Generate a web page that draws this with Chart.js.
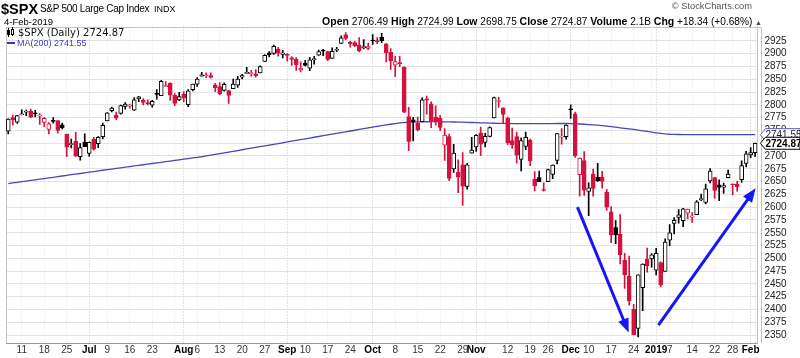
<!DOCTYPE html>
<html><head><meta charset="utf-8">
<script src="https://cdn.jsdelivr.net/npm/chart.js@4"></script>
<style>
html,body{margin:0;padding:0;background:#fff;}
#wrap{position:relative;width:800px;height:358px;overflow:hidden;font-family:"Liberation Sans",Arial,sans-serif;color:#000;}
#c{position:absolute;left:0;top:0;}
.t{position:absolute;white-space:nowrap;line-height:1;}
</style></head><body>
<div id="wrap">
<canvas id="c" width="800" height="358"></canvas>
<div class="t" style="left:1px;top:1px;font:bold 14.5px 'Liberation Sans';">$SPX</div>
<div class="t" style="left:40px;top:3px;font:10px 'Liberation Sans';letter-spacing:-0.3px;">S&amp;P 500 Large Cap Index</div>
<div class="t" style="left:154px;top:4px;font:9px 'Liberation Sans';">INDX</div>
<div class="t" style="left:4px;top:16px;font:9.5px 'Liberation Sans';">4-Feb-2019</div>
<div class="t" style="right:48px;top:1px;font:9.3px 'Liberation Sans';color:#555;">© StockCharts.com</div>
<div class="t" id="quote" style="right:38px;top:15px;font:10.1px 'Liberation Sans';"></div>
<div style="position:absolute;left:8px;top:28px;width:1px;height:9px;background:#000"></div>
<div style="position:absolute;left:7px;top:30px;width:3px;height:5px;background:#000"></div>
<div style="position:absolute;left:12px;top:27px;width:1px;height:9px;background:#000"></div>
<div style="position:absolute;left:11px;top:29px;width:1px;height:4px;border:1px solid #000;background:#fff"></div>
<div class="t" id="lg1" style="left:18px;top:27px;font:10px 'DejaVu Sans';color:#111;"></div>
<div style="position:absolute;left:7px;top:41.5px;width:8px;height:2px;background:#3a3ab0"></div>
<div class="t" id="lg2" style="left:17px;top:38px;font:9px 'Liberation Sans';color:#3a3ab0;"></div>
</div>
<script>
const dates = [
'2018-06-06','2018-06-07','2018-06-08','2018-06-11','2018-06-12','2018-06-13','2018-06-14','2018-06-15','2018-06-18','2018-06-19','2018-06-20','2018-06-21','2018-06-22','2018-06-25','2018-06-26','2018-06-27','2018-06-28','2018-06-29',
'2018-07-02','2018-07-03','2018-07-05','2018-07-06','2018-07-09','2018-07-10','2018-07-11','2018-07-12','2018-07-13','2018-07-16','2018-07-17','2018-07-18','2018-07-19','2018-07-20','2018-07-23','2018-07-24','2018-07-25','2018-07-26','2018-07-27','2018-07-30','2018-07-31',
'2018-08-01','2018-08-02','2018-08-03','2018-08-06','2018-08-07','2018-08-08','2018-08-09','2018-08-10','2018-08-13','2018-08-14','2018-08-15','2018-08-16','2018-08-17','2018-08-20','2018-08-21','2018-08-22','2018-08-23','2018-08-24','2018-08-27','2018-08-28','2018-08-29','2018-08-30','2018-08-31',
'2018-09-04','2018-09-05','2018-09-06','2018-09-07','2018-09-10','2018-09-11','2018-09-12','2018-09-13','2018-09-14','2018-09-17','2018-09-18','2018-09-19','2018-09-20','2018-09-21','2018-09-24','2018-09-25','2018-09-26','2018-09-27','2018-09-28',
'2018-10-01','2018-10-02','2018-10-03','2018-10-04','2018-10-05','2018-10-08','2018-10-09','2018-10-10','2018-10-11','2018-10-12','2018-10-15','2018-10-16','2018-10-17','2018-10-18','2018-10-19','2018-10-22','2018-10-23','2018-10-24','2018-10-25','2018-10-26','2018-10-29','2018-10-30','2018-10-31',
'2018-11-01','2018-11-02','2018-11-05','2018-11-06','2018-11-07','2018-11-08','2018-11-09','2018-11-12','2018-11-13','2018-11-14','2018-11-15','2018-11-16','2018-11-19','2018-11-20','2018-11-21','2018-11-23','2018-11-26','2018-11-27','2018-11-28','2018-11-29','2018-11-30',
'2018-12-03','2018-12-04','2018-12-06','2018-12-07','2018-12-10','2018-12-11','2018-12-12','2018-12-13','2018-12-14','2018-12-17','2018-12-18','2018-12-19','2018-12-20','2018-12-21','2018-12-24','2018-12-26','2018-12-27','2018-12-28','2018-12-31',
'2019-01-02','2019-01-03','2019-01-04','2019-01-07','2019-01-08','2019-01-09','2019-01-10','2019-01-11','2019-01-14','2019-01-15','2019-01-16','2019-01-17','2019-01-18','2019-01-22','2019-01-23','2019-01-24','2019-01-25','2019-01-28','2019-01-29','2019-01-30','2019-01-31',
'2019-02-01','2019-02-04'];

const opens = [
2748.46,2774.84,2765.84,2780.18,2785.60,2787.94,2783.21,2777.78,2765.79,2752.01,2769.73,2769.28,2760.79,2742.94,2722.12,2728.45,2698.69,2727.13,
2704.95,2733.27,2724.19,2737.68,2768.51,2788.56,2779.82,2783.14,2796.93,2797.36,2789.34,2811.35,2809.37,2804.55,2799.17,2820.68,2817.73,2835.49,2842.35,2819.00,2809.73,
2821.17,2800.48,2829.62,2840.29,2855.92,2856.79,2857.19,2838.90,2835.46,2827.88,2827.95,2831.44,2838.32,2853.93,2861.51,2860.99,2860.29,2862.35,2884.69,2901.45,2900.62,2908.94,2898.37,
2896.96,2891.59,2888.64,2868.26,2881.39,2871.57,2888.29,2896.85,2906.38,2903.83,2890.74,2906.60,2919.73,2936.76,2921.83,2921.75,2916.98,2911.65,2910.03,
2926.29,2923.80,2931.69,2919.35,2902.54,2877.53,2882.51,2873.90,2776.87,2770.54,2763.83,2767.05,2811.67,2802.00,2775.66,2773.94,2721.03,2737.87,2674.88,2667.86,2682.65,2640.68,2705.60,
2717.58,2745.45,2726.37,2738.40,2774.13,2806.38,2794.10,2773.93,2730.05,2737.90,2693.52,2718.54,2730.74,2654.60,2657.74,2633.36,2649.97,2663.75,2691.45,2736.97,2737.76,
2790.50,2782.43,2663.51,2691.26,2630.86,2664.44,2658.23,2658.70,2629.68,2590.75,2559.90,2547.05,2496.77,2465.38,2400.56,2363.12,2442.50,2498.77,2498.94,
2476.96,2491.92,2474.33,2535.61,2568.11,2580.00,2573.51,2588.11,2580.31,2585.10,2614.75,2609.28,2651.27,2657.88,2643.48,2638.84,2657.44,2644.97,2644.89,2653.62,2685.49,
2702.32,2706.49];

const highs = [
2772.39,2779.90,2779.39,2790.21,2789.80,2791.47,2789.06,2782.81,2774.99,2765.05,2774.86,2769.28,2764.17,2742.94,2732.91,2746.09,2724.34,2743.26,
2727.26,2736.58,2737.83,2764.41,2784.65,2795.58,2785.91,2799.22,2804.53,2801.19,2814.19,2816.76,2812.05,2809.70,2808.61,2829.99,2848.03,2845.57,2843.17,2821.74,2824.46,
2825.83,2829.91,2840.38,2853.29,2863.43,2862.44,2862.48,2842.20,2843.40,2843.11,2827.95,2850.49,2855.63,2859.76,2873.23,2867.54,2868.78,2876.16,2898.25,2903.77,2916.50,2912.46,2906.32,
2900.18,2894.21,2892.05,2883.81,2886.93,2892.52,2894.65,2906.76,2908.30,2904.65,2911.17,2912.36,2934.80,2940.91,2923.79,2923.95,2931.15,2927.22,2920.53,
2937.06,2931.42,2939.86,2919.78,2909.64,2894.83,2894.83,2874.02,2795.14,2775.77,2775.99,2813.46,2816.94,2806.04,2797.77,2778.94,2753.59,2742.59,2722.70,2692.38,2706.85,2685.43,2736.69,
2741.67,2756.55,2744.27,2756.82,2815.15,2814.75,2794.10,2775.99,2754.60,2746.80,2735.38,2746.75,2733.16,2669.44,2670.73,2647.55,2674.35,2682.53,2744.00,2753.75,2760.88,
2800.18,2785.93,2696.15,2708.54,2647.51,2674.35,2685.44,2670.19,2635.07,2601.13,2573.99,2585.29,2509.63,2504.41,2410.34,2467.76,2489.10,2520.27,2509.24,
2519.49,2493.14,2538.07,2566.16,2579.82,2595.32,2597.82,2596.27,2589.32,2613.08,2625.76,2645.06,2675.47,2657.88,2653.19,2647.20,2672.38,2644.97,2650.93,2690.44,2708.95,
2716.66,2724.99];

const lows = [
2743.15,2760.16,2763.59,2780.17,2778.78,2774.65,2776.52,2761.73,2757.12,2743.19,2763.91,2744.39,2752.68,2698.67,2715.60,2699.38,2691.99,2718.03,
2698.95,2711.16,2716.02,2733.52,2768.51,2786.24,2770.77,2781.53,2791.69,2793.39,2789.24,2805.89,2799.77,2800.01,2795.14,2811.12,2817.73,2835.26,2808.34,2798.11,2808.06,
2805.85,2796.34,2827.37,2835.98,2855.92,2853.09,2851.98,2825.81,2819.88,2826.58,2802.49,2831.44,2833.73,2850.62,2861.32,2856.05,2854.03,2862.35,2884.69,2893.50,2898.40,2895.22,2891.73,
2885.13,2876.92,2867.29,2864.12,2875.94,2866.78,2879.20,2896.39,2895.77,2886.16,2890.43,2903.82,2919.73,2927.11,2912.63,2913.70,2903.28,2909.27,2907.50,
2917.91,2919.37,2921.36,2883.92,2869.29,2855.04,2874.27,2784.86,2710.51,2729.44,2749.03,2766.91,2781.81,2755.18,2760.27,2749.22,2691.43,2651.89,2667.84,2628.16,2603.54,2635.34,2705.60,
2708.85,2700.44,2717.94,2737.08,2774.13,2794.99,2764.24,2722.00,2714.98,2685.75,2670.75,2712.16,2681.09,2631.52,2649.82,2631.09,2649.97,2655.89,2684.38,2722.94,2732.76,
2773.38,2697.18,2621.53,2623.14,2583.23,2621.30,2650.26,2637.27,2593.84,2530.54,2528.71,2488.96,2441.18,2408.55,2351.10,2346.58,2397.94,2472.89,2482.82,
2467.47,2443.96,2474.33,2524.56,2547.56,2568.89,2562.02,2577.40,2570.41,2585.10,2612.68,2606.36,2647.58,2617.27,2612.86,2627.01,2657.33,2624.06,2631.05,2648.34,2678.65,
2696.88,2698.75];

const closes = [
2772.35,2770.37,2779.03,2782.00,2786.85,2775.63,2782.49,2779.66,2773.75,2762.59,2767.32,2749.76,2754.88,2717.07,2723.06,2699.63,2716.31,2718.37,
2726.71,2713.22,2736.61,2759.82,2784.17,2793.84,2774.02,2798.29,2801.31,2798.43,2809.55,2815.62,2804.49,2801.83,2806.98,2820.40,2846.07,2837.44,2818.82,2802.60,2816.29,
2813.36,2827.22,2840.35,2850.40,2858.45,2857.70,2853.58,2833.28,2821.93,2839.96,2818.37,2840.69,2850.13,2857.05,2862.96,2861.82,2856.98,2874.69,2896.74,2897.52,2914.04,2901.13,2901.52,
2896.72,2888.60,2878.05,2871.68,2877.13,2887.89,2888.92,2904.18,2904.98,2888.80,2904.31,2907.95,2930.75,2929.67,2919.37,2915.56,2905.97,2914.00,2913.98,
2924.59,2923.43,2925.51,2901.61,2885.57,2884.43,2880.34,2785.68,2728.37,2767.13,2750.79,2809.92,2809.21,2768.78,2767.78,2755.88,2740.69,2656.10,2705.57,2658.69,2641.25,2682.63,2711.74,
2740.37,2723.06,2738.31,2755.45,2813.89,2806.83,2781.01,2726.22,2722.18,2701.58,2730.20,2736.27,2690.73,2641.89,2649.93,2632.56,2673.45,2682.17,2743.79,2737.80,2760.17,
2790.37,2700.06,2695.95,2633.08,2637.72,2636.78,2651.07,2650.54,2599.95,2545.94,2546.16,2506.96,2467.42,2416.62,2351.10,2467.70,2488.83,2485.74,2506.85,
2510.03,2447.89,2531.94,2549.69,2574.41,2584.96,2596.64,2596.26,2582.61,2610.30,2616.10,2635.96,2670.71,2632.90,2638.70,2642.33,2664.76,2643.85,2640.00,2681.05,2704.10,
2706.53,2724.87];

const ma200 = [
2646.0,2647.3,2648.5,2649.8,2651.0,2652.3,2653.5,2654.7,2655.9,2657.1,
2658.4,2659.6,2660.9,2662.1,2663.4,2664.6,2665.8,2667.1,2668.3,2669.6,
2670.9,
2672.1,2673.3,2674.5,2675.7,2676.9,2678.1,2679.3,2680.5,2681.7,
2682.9,2684.1,2685.3,2686.5,2687.7,2688.9,2690.1,2691.3,2692.5,2693.7,
2694.9,2696.1,2697.3,2698.5,
2700.0,2701.5,2703.0,2704.6,2706.1,2707.6,
2709.1,2710.6,2712.2,2713.7,2715.2,2716.7,2718.2,2719.8,2721.3,2722.8,
2724.3,2725.8,2727.4,2728.9,2730.4,2732.0,
2733.5,2735.1,2736.6,2738.1,
2739.6,2741.2,2742.7,2744.2,2745.7,2747.2,2748.8,2750.3,2751.8,2753.3,
2754.8,2756.3,2757.8,2759.2,2760.6,2762.0,2763.3,2764.5,
2765.3,2765.9,2766.3,2766.6,2766.8,2766.9,2767.0,2767.0,2766.9,2766.8,
2766.6,2766.4,2766.2,2766.0,2765.7,2765.4,2765.1,2764.8,2764.5,2764.2,
2764.0,2763.8,2763.6,
2763.5,2763.4,2763.3,2763.3,2763.2,2763.2,2763.1,2763.1,2763.2,2763.3,
2763.4,2763.5,2763.6,2763.5,2763.2,
2762.9,2762.5,2762.0,2761.4,2760.8,2760.2,2759.3,2758.3,2757.3,2756.2,
2755.1,2754.0,2752.9,2751.8,2750.5,2749.2,2747.9,2746.6,2745.3,2744.1,
2743.0,
2742.5,2742.2,2742.0,2741.9,2741.8,2741.8,2741.7,2741.7,2741.6,2741.6,
2741.7,2741.7,2741.8,2741.8,2741.7,2741.7,2741.6,2741.6,2741.6,2741.55];

const yTicks = [2350,2375,2400,2425,2450,2475,2500,2525,2550,2575,2600,2625,2650,2675,2700,2725,2750,2775,2800,2825,2850,2875,2900,2925];

const gridDates = ['2018-06-11','2018-06-18','2018-06-25','2018-07-02','2018-07-09','2018-07-16','2018-07-23','2018-07-30','2018-08-01','2018-08-06','2018-08-13','2018-08-20','2018-08-27','2018-09-04','2018-09-10','2018-09-17','2018-09-24','2018-10-01','2018-10-08','2018-10-15','2018-10-22','2018-10-29','2018-11-01','2018-11-05','2018-11-12','2018-11-19','2018-11-26','2018-12-03','2018-12-10','2018-12-17','2018-12-24','2018-12-31','2019-01-02','2019-01-07','2019-01-14','2019-01-22','2019-01-28','2019-02-01','2019-02-04'];
const gridTexts = ['11','18','25','Jul','9','16','23','','Aug','6','13','20','27','Sep','10','17','24','Oct','8','15','22','29','Nov','','12','19','26','Dec','10','17','24','','2019','7','14','22','28','Feb',''];
const monthStarts = ['2018-07-02','2018-08-01','2018-09-04','2018-10-01','2018-11-01','2018-12-03','2019-01-02','2019-02-01'];

// hand-drawn arrows: [date index, value] endpoints
const arrows = [
  {from:[126.5, 2600], to:[137.9, 2355]},
  {from:[144.5, 2369.5], to:[166.1, 2637]}
];
const volumeText = '2.1B';

const UP = '#000000', DOWN = '#d4123e';
const n = closes.length, last = n - 1;
const candleColor = closes.map((c,i) => c < (i > 0 ? closes[i-1] : opens[0]) ? DOWN : UP);
const bodyFill = closes.map((c,i) => c > opens[i] ? '#ffffff' : candleColor[i]);
const tickText = dates.map(d => { const k = gridDates.indexOf(d); return k >= 0 ? gridTexts[k] : ''; });
const isGrid = dates.map(d => gridDates.includes(d));
const isMonth = dates.map(d => monthStarts.includes(d));

const chg = closes[last] - closes[last-1];
const B = s => '<b style="font-size:10.5px">' + s + '</b>';
document.getElementById('quote').innerHTML =
  B('Open') + ' ' + opens[last].toFixed(2) + ' ' +
  B('High') + ' ' + highs[last].toFixed(2) + ' ' +
  B('Low') + ' ' + lows[last].toFixed(2) + ' ' +
  B('Close') + ' ' + closes[last].toFixed(2) + ' ' +
  B('Volume') + ' ' + volumeText + ' ' +
  B('Chg') + ' ' + (chg >= 0 ? '+' : '') + chg.toFixed(2) +
  ' (' + (chg >= 0 ? '+' : '') + (chg / closes[last-1] * 100).toFixed(2) + '%) <span style="font-size:7px;color:#444">▲</span>';
document.getElementById('lg1').textContent = '$SPX (Daily) ' + closes[last].toFixed(2);
document.getElementById('lg2').textContent = 'MA(200) ' + ma200[last].toFixed(2);

function drawArrow(ctx, x1, y1, x2, y2) {
  const ang = Math.atan2(y2 - y1, x2 - x1), L = 14, W = 5.5;
  const bx = x2 - L * Math.cos(ang), by = y2 - L * Math.sin(ang);
  ctx.strokeStyle = '#1414ff'; ctx.fillStyle = '#1414ff';
  ctx.lineWidth = 3; ctx.lineCap = 'butt';
  ctx.beginPath(); ctx.moveTo(x1, y1); ctx.lineTo(bx + 2*Math.cos(ang), by + 2*Math.sin(ang)); ctx.stroke();
  ctx.beginPath(); ctx.moveTo(x2, y2);
  ctx.lineTo(bx + W * Math.sin(ang), by - W * Math.cos(ang));
  ctx.lineTo(bx - W * Math.sin(ang), by + W * Math.cos(ang));
  ctx.closePath(); ctx.fill();
}
function drawTag(ctx, x, y, text, color, bold) {
  ctx.beginPath();
  ctx.moveTo(x, y); ctx.lineTo(x + 5, y - 6); ctx.lineTo(800, y - 6); ctx.lineTo(800, y + 6); ctx.lineTo(x + 5, y + 6); ctx.closePath();
  ctx.fillStyle = '#fff'; ctx.fill();
  ctx.strokeStyle = color; ctx.lineWidth = 1; ctx.stroke();
  ctx.fillStyle = bold ? '#000' : '#222';
  ctx.font = (bold ? 'bold ' : '') + '10px "Liberation Sans"';
  ctx.textBaseline = 'middle'; ctx.textAlign = 'left';
  ctx.fillText(text, x + 5, y + 0.5);
}

const decor = {
  id: 'decor',
  beforeDatasetsDraw(chart) {
    const {ctx, chartArea: a} = chart;
    ctx.save();
    ctx.strokeStyle = '#c4c4c4'; ctx.lineWidth = 1;
    ctx.beginPath();
    ctx.moveTo(Math.round(a.left) + 0.5, a.bottom);
    ctx.lineTo(Math.round(a.left) + 0.5, Math.round(a.top) + 0.5);
    ctx.lineTo(Math.round(a.right) + 4.5, Math.round(a.top) + 0.5);
    ctx.lineTo(Math.round(a.right) + 4.5, a.bottom);
    ctx.stroke();
    ctx.restore();
  },
  afterDatasetsDraw(chart) {
    const {ctx} = chart, xs = chart.scales.x, ys = chart.scales.y;
    ctx.save();
    arrows.forEach(a => drawArrow(ctx,
      xs.getPixelForValue(a.from[0]), ys.getPixelForValue(a.from[1]),
      xs.getPixelForValue(a.to[0]), ys.getPixelForValue(a.to[1])));
    ctx.restore();
  },
  afterDraw(chart) {
    const {ctx, chartArea: a} = chart, ys = chart.scales.y;
    ctx.save();
    drawTag(ctx, a.right + 3, ys.getPixelForValue(ma200[last]), ma200[last].toFixed(2), '#5a5ab4', false);
    drawTag(ctx, a.right + 3, ys.getPixelForValue(closes[last]), closes[last].toFixed(2), '#000', true);
    ctx.restore();
  }
};

new Chart(document.getElementById('c'), {
  type: 'bar',
  data: {
    labels: dates,
    datasets: [
      {type: 'line', label: 'MA(200)', data: ma200, borderColor: '#4848b6', borderWidth: 1.3, pointRadius: 0, tension: 0, order: 3},
      {label: 'wick', data: lows.map((l,i) => [l, highs[i]]), backgroundColor: candleColor, borderWidth: 0, barThickness: 1, grouped: false, order: 2},
      {label: '$SPX', data: opens.map((o,i) => [o, closes[i]]), backgroundColor: bodyFill, borderColor: candleColor, borderWidth: 1, borderSkipped: false, barThickness: 4, minBarLength: 1, grouped: false, order: 1}
    ]
  },
  options: {
    responsive: false, animation: false, devicePixelRatio: 1,
    layout: {padding: {left: 6, top: 26.5, right: 0, bottom: 0}},
    plugins: {legend: {display: false}, tooltip: {enabled: false}},
    scales: {
      x: {
        offset: true,
        grid: {offset: false, drawTicks: false, lineWidth: 1,
          color: c => isGrid[c.index] ? (isMonth[c.index] ? '#c6c6c6' : '#e2e2e2') : 'rgba(0,0,0,0)'},
        border: {display: true, color: '#999', dash: [1, 2]},
        ticks: {autoSkip: false, maxRotation: 0, minRotation: 0, padding: 1,
          callback: (v, i) => tickText[i] || '',
          font: c => ({family: 'Liberation Sans', size: 10, weight: isMonth[c.index] ? 'bold' : 'normal'}),
          color: c => isMonth[c.index] ? '#000' : '#333'},
        afterFit: s => { s.height = 14.7; }
      },
      y: {
        position: 'right', min: 2334, max: 2953,
        afterBuildTicks: s => { s.ticks = yTicks.map(v => ({value: v})); },
        grid: {color: '#e2e2e2', drawTicks: false},
        border: {display: true, color: '#c4c4c4'},
        ticks: {autoSkip: false, padding: 7, font: {family: 'Liberation Sans', size: 10}, color: '#222', callback: v => String(v)},
        afterFit: s => { s.width = 42.6; }
      }
    }
  },
  plugins: [decor]
});
</script>
</body></html>
